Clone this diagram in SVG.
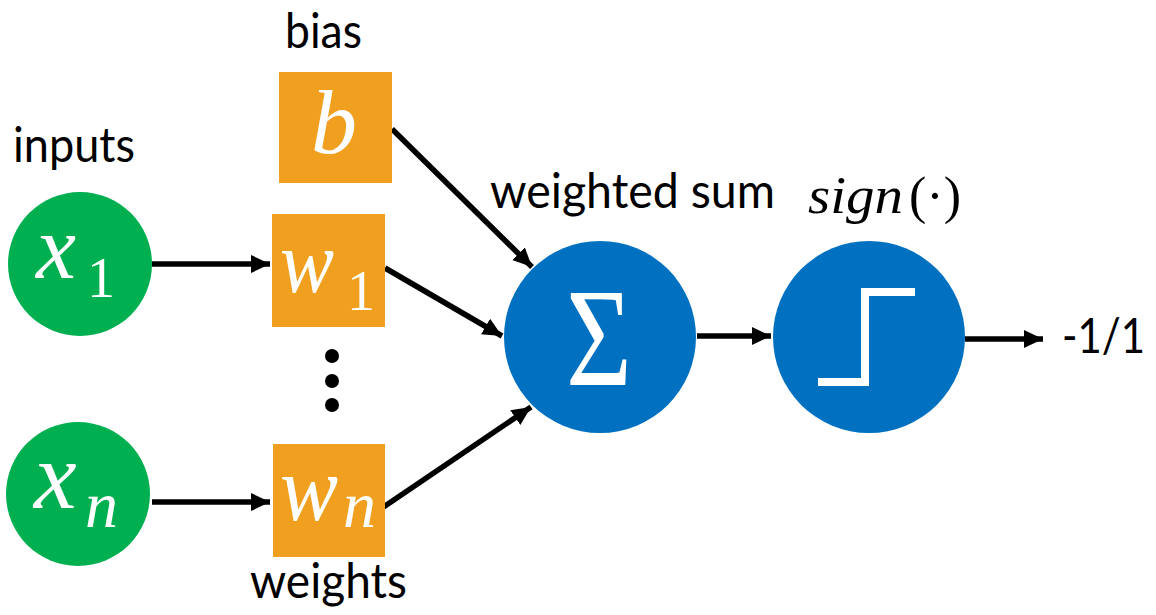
<svg xmlns="http://www.w3.org/2000/svg" width="1156" height="615" viewBox="0 0 1156 615">
<defs>
<marker id="arr" markerUnits="userSpaceOnUse" markerWidth="22" markerHeight="20" refX="19" refY="9" orient="auto">
<path d="M0,0 L19,9 L0,18 z" fill="#000"/>
</marker>
<style>
.lbl{font-family:Lato,"Open Sans","Liberation Sans",sans-serif;font-size:48px;fill:#000}
.mi{font-family:"Liberation Serif","DejaVu Serif",serif;font-style:italic;fill:#fff}
.mu{font-family:"Liberation Serif","DejaVu Serif",serif;fill:#fff}
.green{fill:#00B050}
.orange{fill:#F0A01E}
.blue{fill:#0070C0}
.conn{stroke:#000;stroke-width:5.5;fill:none;marker-end:url(#arr)}
</style>
</defs>
<rect width="1156" height="615" fill="#fff"/>

<g id="connectors">
<line class="conn" x1="152" y1="264" x2="270" y2="264"/>
<line class="conn" x1="152" y1="502" x2="270" y2="502"/>
<line class="conn" x1="392" y1="129" x2="532" y2="267"/>
<line class="conn" x1="385" y1="268" x2="502" y2="336"/>
<line class="conn" x1="382" y1="508" x2="531" y2="407"/>
<line class="conn" x1="697" y1="336" x2="771" y2="336"/>
<line class="conn" x1="965" y1="339" x2="1043" y2="339"/>
</g>

<g id="label-inputs"><text class="lbl" x="13" y="162" textLength="122" lengthAdjust="spacingAndGlyphs">inputs</text></g>
<g id="label-bias"><text class="lbl" x="285" y="48" font-size="43" textLength="77" lengthAdjust="spacingAndGlyphs">bias</text></g>
<g id="label-weights"><text class="lbl" x="250" y="598" textLength="157" lengthAdjust="spacingAndGlyphs">weights</text></g>
<g id="label-wsum"><text class="lbl" x="490" y="208" textLength="285" lengthAdjust="spacingAndGlyphs">weighted sum</text></g>
<g id="label-sign"><text x="808" y="213" font-size="52" fill="#000" font-family="'Liberation Serif','DejaVu Serif',serif"><tspan font-style="italic" textLength="95" lengthAdjust="spacingAndGlyphs">sign</tspan><tspan x="909">(·)</tspan></text></g>
<g id="label-out"><text class="lbl" x="1062" y="353" textLength="83" lengthAdjust="spacingAndGlyphs">-1/1</text></g>

<g id="node-x1">
<circle class="green" cx="80" cy="264" r="72"/>
<text class="mi" x="36" y="278" font-size="90">x</text>
<text class="mu" x="87" y="297" font-size="56">1</text>
</g>
<g id="node-xn">
<circle class="green" cx="78" cy="494" r="72"/>
<text class="mi" x="34" y="508" font-size="96">x</text>
<text class="mi" x="85" y="527" font-size="66">n</text>
</g>
<g id="node-b">
<rect class="orange" x="279" y="72" width="113" height="111"/>
<text class="mi" x="311" y="153" font-size="92">b</text>
</g>
<g id="node-w1">
<rect class="orange" x="272" y="214" width="113" height="113"/>
<text class="mi" x="280" y="292" font-size="88" textLength="54" lengthAdjust="spacingAndGlyphs">w</text>
<text class="mu" x="347" y="310" font-size="56">1</text>
</g>
<g id="dots">
<circle cx="332" cy="356" r="7" fill="#000"/>
<circle cx="332" cy="381" r="7" fill="#000"/>
<circle cx="332" cy="405" r="7" fill="#000"/>
</g>
<g id="node-wn">
<rect class="orange" x="273" y="444" width="112" height="113"/>
<text class="mi" x="280" y="520" font-size="94" textLength="58" lengthAdjust="spacingAndGlyphs">w</text>
<text class="mi" x="343" y="527" font-size="66">n</text>
</g>
<g id="node-sum">
<circle class="blue" cx="600" cy="337" r="96"/>
<text class="mu" x="566" y="385" font-size="140" textLength="66" lengthAdjust="spacingAndGlyphs">Σ</text>
</g>
<g id="node-sign">
<circle class="blue" cx="869" cy="337" r="96"/>
<path d="M818,382 H865 V292 H915" stroke="#fff" stroke-width="8" fill="none"/>
</g>
</svg>
